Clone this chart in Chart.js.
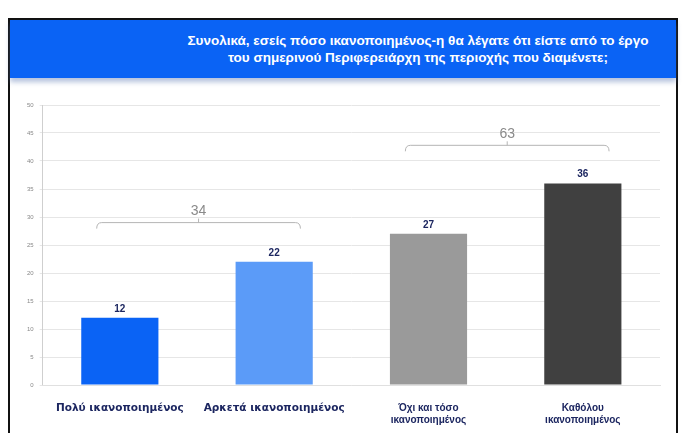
<!DOCTYPE html>
<html>
<head>
<meta charset="utf-8">
<script src="https://cdn.jsdelivr.net/npm/chart.js@4"></script>
<style>
  body { margin: 0; background: #fff; width: 682px; height: 433px; overflow: hidden; font-family: "Liberation Sans", Arial, sans-serif; }
  #frame { position: absolute; left: 8px; top: 18px; width: 666px; height: 430px; border: 2px solid #111; border-bottom: none; }
  #header { height: 58px; background: #0a63f5; color: #fff; font-weight: bold; font-size: 13.5px; line-height: 17px;
            padding-left: 150px; text-align: center; box-sizing: border-box; padding-top: 12px;
            box-shadow: 0 4px 5px rgba(90,120,180,0.45); }
  #wrap { position: absolute; left: 2px; top: 62px; width: 662px; height: 353px; }
</style>
</head>
<body>
<div id="frame">
  <div id="header">Συνολικά, εσείς πόσο ικανοποιημένος-η θα λέγατε ότι είστε από το έργο<br>του σημερινού Περιφερειάρχη της περιοχής που διαμένετε;</div>
  <div id="wrap"><canvas id="chart"></canvas></div>
</div>
<script>
// Chart data
const categories = [
    "Πολύ ικανοποιημένος",
    "Αρκετά ικανοποιημένος",
    ["Όχι και τόσο", "ικανοποιημένος"],
    ["Καθόλου", "ικανοποιημένος"]
];
const values = [12, 22, 27, 36];
const barColors = ["#0a63f5", "#5b9bf8", "#9a9a9a", "#404040"];
// groups summed over the brackets: [first index, last index, bracket level]
const groups = [[0, 1, 29], [2, 3, 42.8]];

const ctx = document.getElementById("chart");

const valueLabels = {
    id: 'valueLabels',
    afterDatasetsDraw(chart) {
        const c = chart.ctx;
        const meta = chart.getDatasetMeta(0);
        c.save();
        c.font = 'bold 10px "Liberation Sans", Arial';
        c.fillStyle = '#1c2660';
        c.textAlign = 'center';
        c.textBaseline = 'bottom';
        meta.data.forEach(function(bar, i) {
            c.fillText(values[i], bar.x, bar.y - 4);
        });
        c.restore();
    }
};

const brackets = {
    id: 'brackets',
    afterDatasetsDraw(chart) {
        const c = chart.ctx;
        const x = chart.scales.x;
        const y = chart.scales.y;
        const step = x.getPixelForValue(1) - x.getPixelForValue(0);
        c.save();
        c.strokeStyle = '#b5b5b5';
        c.lineWidth = 1;
        for (const g of groups) {
            const x1 = x.getPixelForValue(g[0]) - step * 0.15;
            const x2 = x.getPixelForValue(g[1]) + step * 0.17;
            const yy = y.getPixelForValue(g[2]);
            const mid = (x1 + x2) / 2;
            c.beginPath();
            c.moveTo(x1, yy + 6);
            c.quadraticCurveTo(x1, yy, x1 + 5, yy);
            c.lineTo(x2 - 5, yy);
            c.quadraticCurveTo(x2, yy, x2, yy + 6);
            c.moveTo(mid, yy);
            c.lineTo(mid, yy - 4);
            c.stroke();
            let sum = 0;
            for (let i = g[0]; i <= g[1]; i++) sum += values[i];
            c.font = '14px "Liberation Sans", Arial';
            c.fillStyle = '#8a8a8a';
            c.textAlign = 'center';
            c.textBaseline = 'bottom';
            c.fillText(sum, mid, yy - 4);
        }
        c.restore();
    }
};

const config = {
    type: 'bar',
    data: {
        labels: categories,
        datasets: [{
            data: values,
            backgroundColor: barColors,
            barPercentage: 0.5,
            categoryPercentage: 1
        }]
    },
    options: {
        responsive: true,
        maintainAspectRatio: false,
        animation: false,
        layout: { padding: { top: 23, right: 14, left: 9, bottom: 0 } },
        plugins: { legend: { display: false }, tooltip: { enabled: false } },
        scales: {
            y: {
                min: 0,
                max: 50,
                ticks: { stepSize: 5, color: '#888', font: { size: 6 }, padding: 6 },
                grid: { color: '#e6e6e6', drawTicks: true, tickLength: 3 },
                border: { color: '#cfcfcf' }
            },
            x: {
                ticks: {
                    color: '#1c2660',
                    font: function(c) {
                        if (c.index < 2) return { family: '"DejaVu Sans", sans-serif', size: 10.5, weight: 'bold' };
                        return { family: '"Liberation Sans", Arial', size: 10, weight: 'bold' };
                    },
                    maxRotation: 0, autoSkip: false, padding: 9
                },
                grid: { display: false },
                border: { color: '#e0e0e0' }
            }
        }
    },
    plugins: [valueLabels, brackets]
};

const myChart = new Chart(ctx, config);
</script>
</body>
</html>
